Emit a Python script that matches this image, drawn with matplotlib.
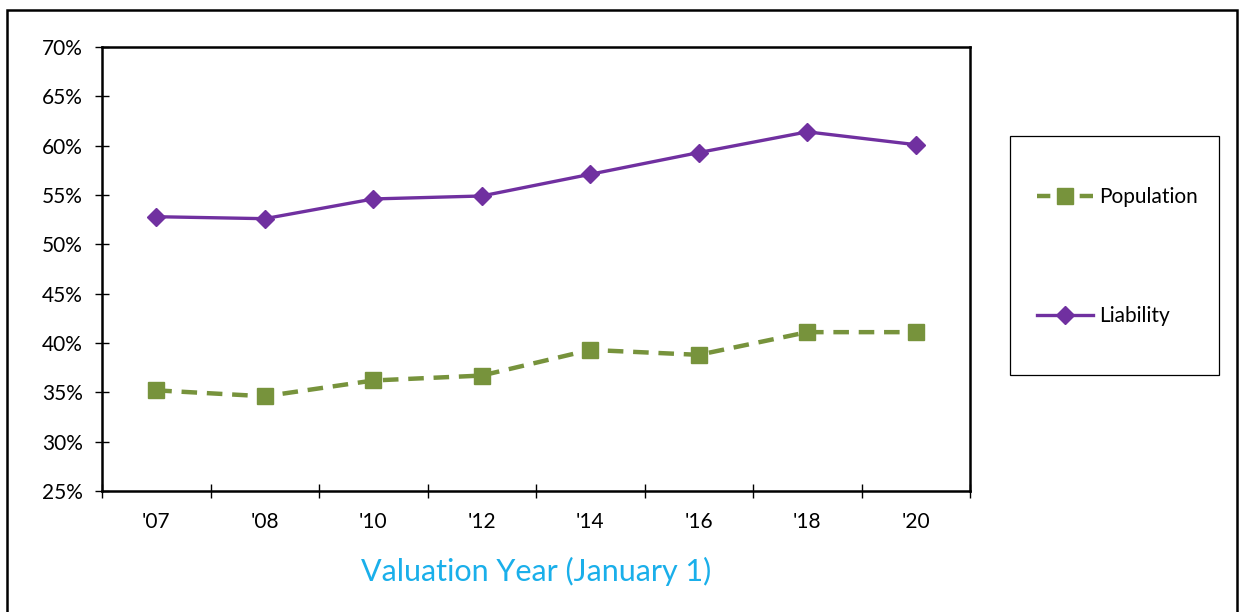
import matplotlib
matplotlib.use("Agg")
import matplotlib.pyplot as plt
from matplotlib.patches import Rectangle
from matplotlib.ticker import FixedLocator, FuncFormatter

plt.rcParams['font.family'] = ['Lato', 'DejaVu Sans']

# data
years = ["'07", "'08", "'10", "'12", "'14", "'16", "'18", "'20"]
population = [35.2, 34.6, 36.2, 36.7, 39.3, 38.8, 41.1, 41.1]
liability = [52.8, 52.6, 54.6, 54.9, 57.1, 59.3, 61.4, 60.1]

W, H = 1243, 612
fig = plt.figure(figsize=(W / 100, H / 100), dpi=100)
ax = fig.add_axes([102 / W, 1 - 491 / H, (970 - 102) / W, (491 - 47) / H])

x = list(range(len(years)))
green = '#77933C'
purple = '#7030A0'

ax.plot(x, population, color=green, lw=3.2, ls=(0, (3.5, 2.2)), marker='s',
        ms=11, mec=green, mfc=green, label='Population', zorder=3)
ax.plot(x, liability, color=purple, lw=2.4, marker='D', ms=9,
        mec=purple, mfc=purple, label='Liability', zorder=3)

ax.set_xlim(-0.5, len(years) - 0.5)
ax.set_ylim(25, 70)

# y axis: percent labels, ticks crossing the axis
ax.set_yticks(range(25, 71, 5))
ax.yaxis.set_major_formatter(FuncFormatter(lambda v, p: f'{v:.0f}%'))
ax.tick_params(axis='y', direction='inout', length=9.5, width=1, labelsize=15, pad=9)

# x axis: ticks between categories, labels at category centres
ax.xaxis.set_major_locator(FixedLocator([i - 0.5 for i in range(len(years) + 1)]))
ax.xaxis.set_major_formatter(FuncFormatter(lambda v, p: ''))
ax.xaxis.set_minor_locator(FixedLocator(x))
ax.set_xticklabels(years, minor=True)
ax.tick_params(axis='x', which='major', direction='inout', length=10, width=1)
ax.tick_params(axis='x', which='minor', length=0, labelsize=15, pad=15)

for s in ax.spines.values():
    s.set_linewidth(1.8)
    s.set_color('black')

ax.set_xlabel('Valuation Year (January 1)', fontsize=22, color='#1AAFEA', labelpad=18)

# legend box on the right
fig.patches.append(Rectangle((1010 / W, 1 - 375 / H), 209 / W, 239 / H,
                             transform=fig.transFigure, fill=False,
                             edgecolor='black', lw=0.9))
leg = fig.legend(loc='upper left', bbox_to_anchor=(1037 / W, 1 - 187 / H),
                 frameon=False, fontsize=15, handlelength=2.7,
                 handletextpad=0.3, labelspacing=4.75, borderaxespad=0,
                 borderpad=0)
# dash - marker - dash, as in the reference legend
leg.get_lines()[0].set_linestyle((0, (3.0, 6.6)))

# outer frame of the picture
fig.patches.append(Rectangle((7 / W, -0.05), 1230 / W, 1.05 - 10 / H,
                             transform=fig.transFigure, fill=False,
                             edgecolor='black', lw=1.8, clip_on=False))

fig.savefig('out.png', dpi=100)
